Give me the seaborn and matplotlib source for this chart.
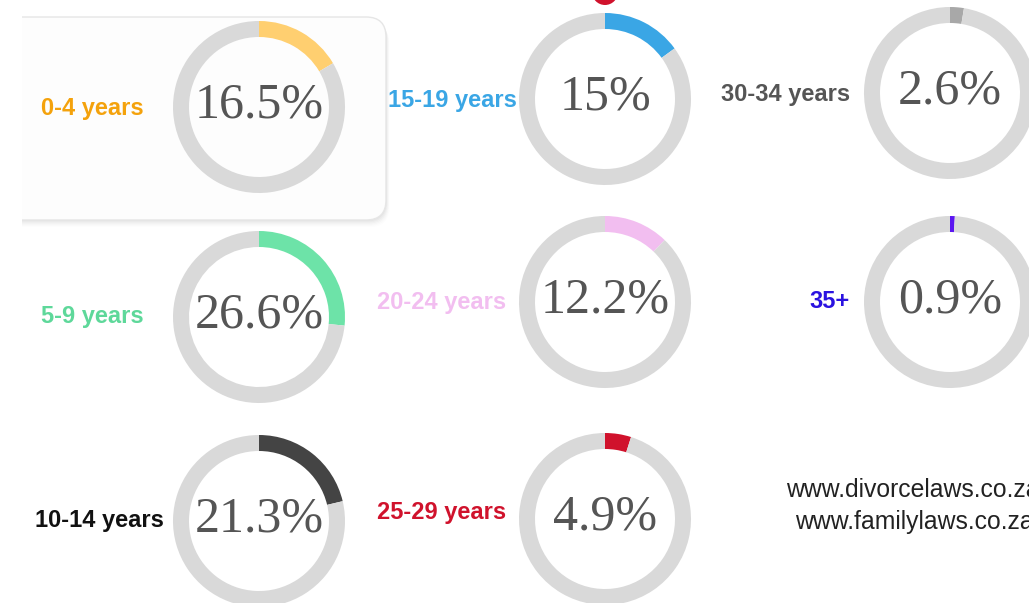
import matplotlib
matplotlib.use("Agg")
import matplotlib.pyplot as plt
from matplotlib.patches import FancyBboxPatch, Rectangle, Circle
import seaborn as sns
import pandas as pd

# ---- data ----
age_groups = ["0-4 years", "15-19 years", "30-34 years",
              "5-9 years", "20-24 years", "35+",
              "10-14 years", "25-29 years"]
percentages = [16.5, 15, 2.6, 26.6, 12.2, 0.9, 21.3, 4.9]
websites = ["www.divorcelaws.co.za", "www.familylaws.co.za"]

# ---- styles / layout ----
label_colors = ["#F4A20C", "#3AA6E5", "#555555", "#5ED89A",
                "#F2BEF0", "#2A12E0", "#111111", "#D0122C"]
ring_colors = ["#FFCF70", "#3AA6E5", "#A8A8A8", "#6DE3A8",
               "#F2BEF0", "#5B16F0", "#444444", "#D0122C"]
centers = [(259, 107), (605, 99), (950, 93),
           (259, 317), (605, 302), (950, 302),
           (259, 521), (605, 519)]
label_pos = [(92, 108), (452, 101), (786, 95),
             (92, 317), (442, 302), (830, 302),
             (99, 521), (442, 512)]

df = pd.DataFrame({"group": age_groups, "pct": percentages,
                   "label_color": label_colors, "ring_color": ring_colors})

sns.set_theme(style="white")
plt.rcParams["font.family"] = ["Liberation Sans", "DejaVu Sans"]

W, H = 1029, 603
fig = plt.figure(figsize=(W / 100, H / 100), dpi=100)
fig.patch.set_facecolor("white")
ax = fig.add_axes([0, 0, 1, 1])

# card with soft shadow
for i, a in enumerate([0.025, 0.022, 0.018, 0.014, 0.01, 0.007]):
    d = (i + 1) * 2
    ax.add_patch(FancyBboxPatch((-20 - d * 0.3, 17 + d * 0.6), 406 + d * 0.6, 203,
                                boxstyle="round,pad=0,rounding_size=20",
                                facecolor="black", edgecolor="none", alpha=a, zorder=1))
ax.add_patch(FancyBboxPatch((-20, 17), 406, 203,
                            boxstyle="round,pad=0,rounding_size=20",
                            facecolor="#FDFDFD", edgecolor="#E6E6E6", lw=1, zorder=2))
ax.add_patch(Rectangle((-30, -10), 52, 260, facecolor="white", edgecolor="none", zorder=3))

# small red circle at top (cut off)
ax.add_patch(Circle((605, -8), 13, facecolor="#D0122C", edgecolor="none", zorder=4))

R, WID = 86, 16
for i, row in df.iterrows():
    cx, cy = centers[i]
    ax.pie([row.pct, 100 - row.pct], colors=[row.ring_color, "#D9D9D9"],
           startangle=-90, counterclock=True, center=(cx, cy), radius=R,
           wedgeprops=dict(width=WID, edgecolor="none", zorder=5),
           frame=True)
    ax.text(cx, cy - 2, f"{row.pct:g}%", ha="center", va="center",
            fontsize=36, color="#555555", family=["Liberation Serif", "DejaVu Serif"],
            zorder=6)
    lx, ly = label_pos[i]
    ax.text(lx, ly, row.group, ha="center", va="center", fontsize=17,
            fontweight="bold", color=row.label_color, zorder=6)

ax.text(786, 490, websites[0], ha="left", va="center", fontsize=17.8,
        color="#222222", zorder=6)
ax.text(795, 522, websites[1], ha="left", va="center", fontsize=17.8,
        color="#222222", zorder=6)

ax.set_xlim(0, W)
ax.set_ylim(H, 0)
ax.set_aspect("auto")
ax.axis("off")

fig.savefig("out.png", dpi=100, facecolor="white")
